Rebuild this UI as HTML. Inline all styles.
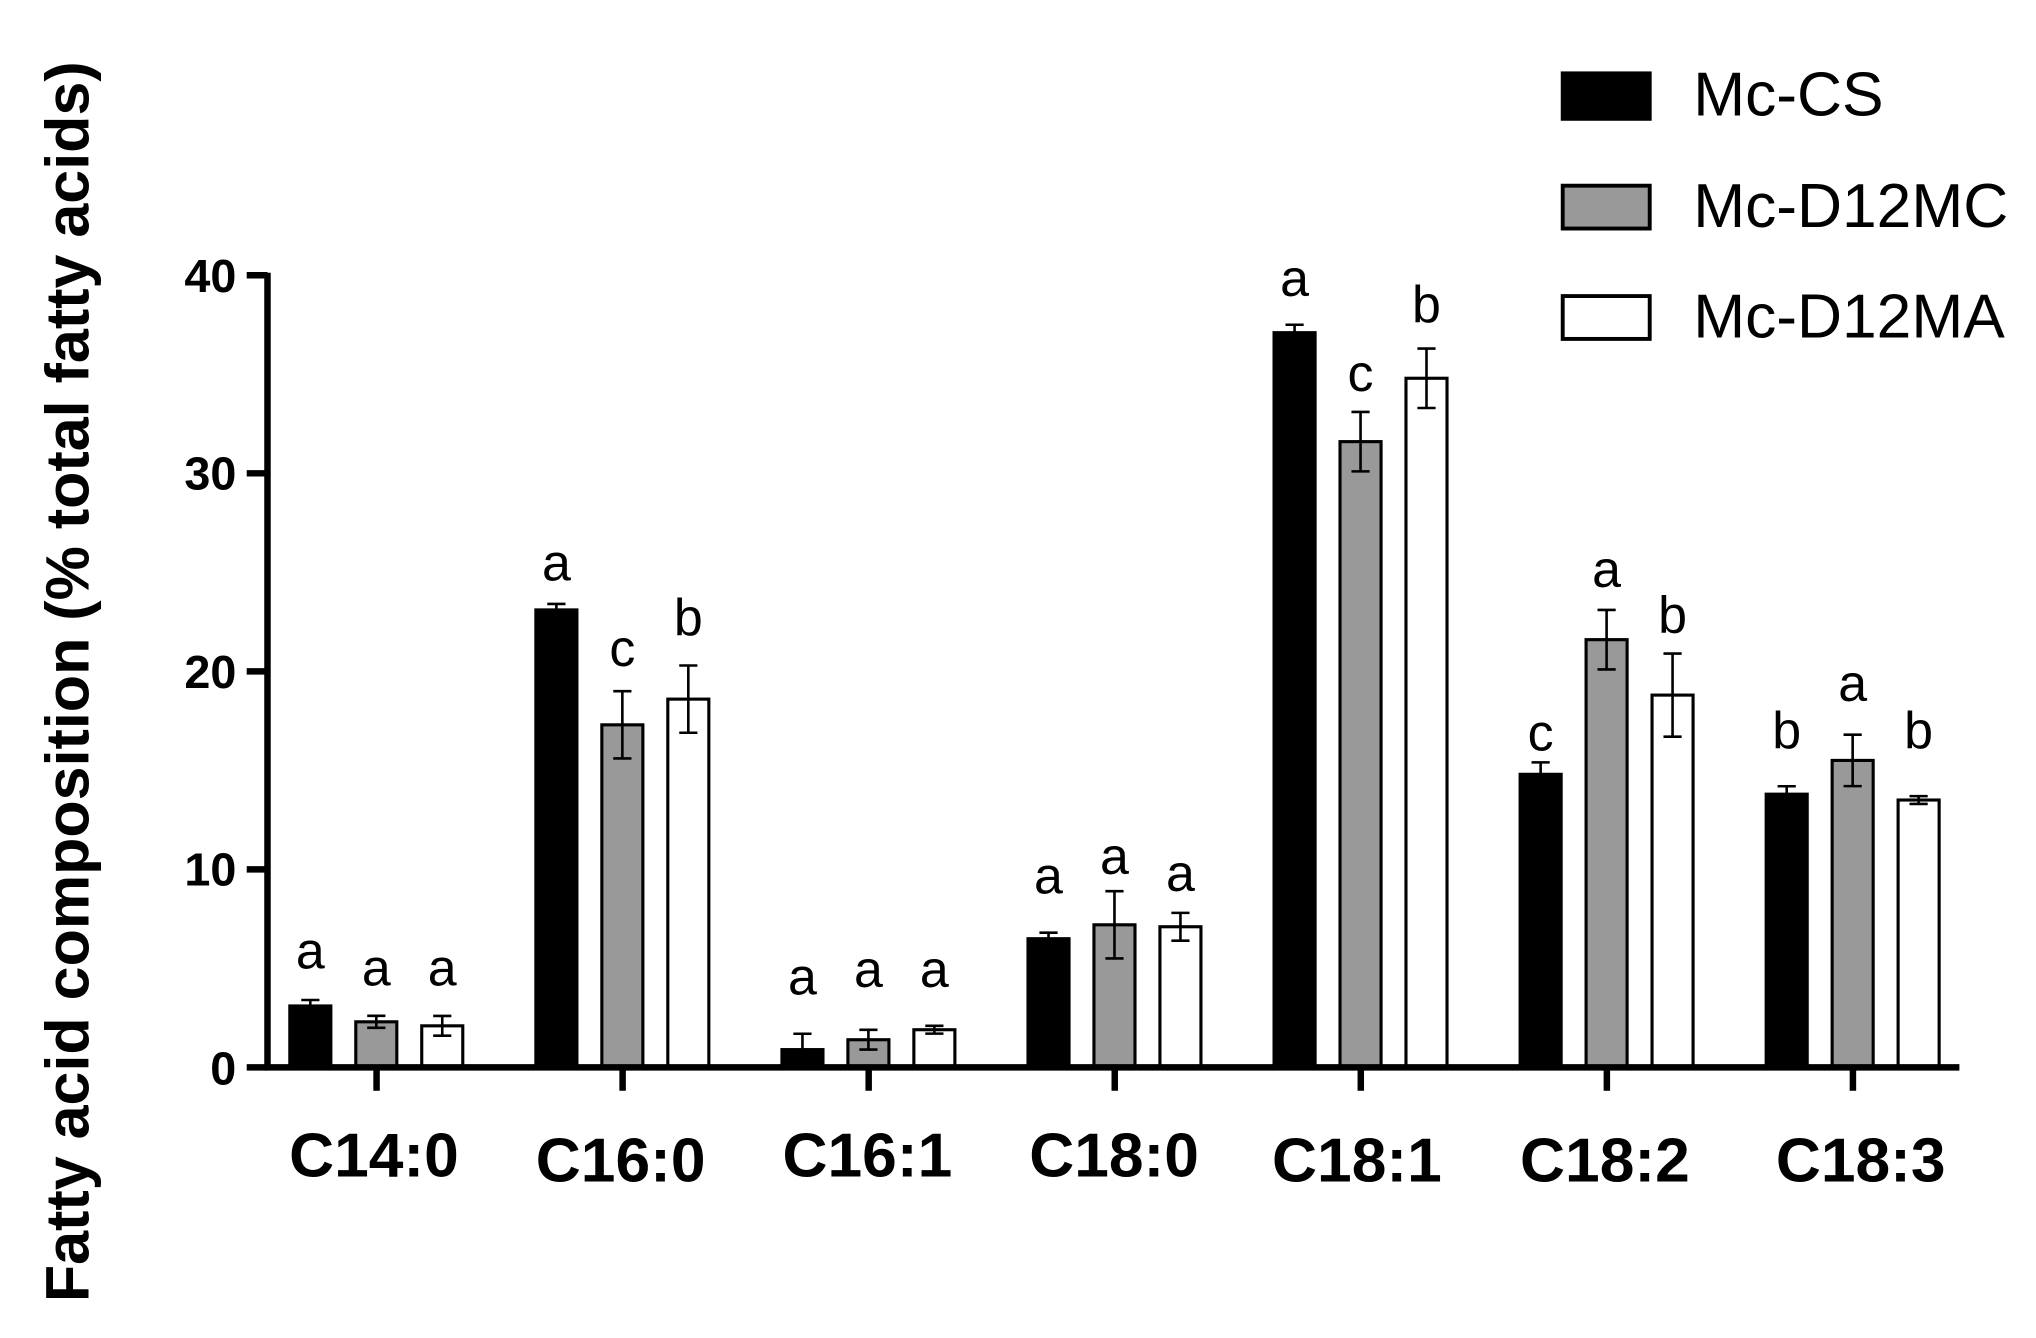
<!DOCTYPE html>
<html><head><meta charset="utf-8"><style>html,body{margin:0;padding:0;background:#fff}svg{display:block}</style></head>
<body>
<svg width="2036" height="1338" viewBox="0 0 1568 1030.4" preserveAspectRatio="none" xmlns="http://www.w3.org/2000/svg" font-family="Liberation Sans, Arial, sans-serif">
<g stroke="#000" stroke-width="2.4">
<rect x="223.2" y="774.7" width="31.6" height="47.3" fill="#000"/>
<rect x="274" y="786.9" width="31.6" height="35.1" fill="#999"/>
<rect x="324.8" y="790" width="31.6" height="32" fill="#fff"/>
<rect x="412.7" y="469.7" width="31.6" height="352.3" fill="#000"/>
<rect x="463.5" y="558.2" width="31.6" height="263.8" fill="#999"/>
<rect x="514.3" y="538.4" width="31.6" height="283.6" fill="#fff"/>
<rect x="602.2" y="808.3" width="31.6" height="13.7" fill="#000"/>
<rect x="653" y="800.7" width="31.6" height="21.3" fill="#999"/>
<rect x="703.8" y="793" width="31.6" height="29" fill="#fff"/>
<rect x="791.7" y="722.9" width="31.6" height="99.1" fill="#000"/>
<rect x="842.5" y="712.2" width="31.6" height="109.8" fill="#999"/>
<rect x="893.3" y="713.7" width="31.6" height="108.3" fill="#fff"/>
<rect x="981.2" y="256.2" width="31.6" height="565.8" fill="#000"/>
<rect x="1032" y="340.1" width="31.6" height="481.9" fill="#999"/>
<rect x="1082.8" y="291.3" width="31.6" height="530.7" fill="#fff"/>
<rect x="1170.7" y="596.3" width="31.6" height="225.7" fill="#000"/>
<rect x="1221.5" y="492.6" width="31.6" height="329.4" fill="#999"/>
<rect x="1272.3" y="535.3" width="31.6" height="286.7" fill="#fff"/>
<rect x="1360.2" y="611.6" width="31.6" height="210.4" fill="#000"/>
<rect x="1411" y="585.6" width="31.6" height="236.4" fill="#999"/>
<rect x="1461.8" y="616.1" width="31.6" height="205.9" fill="#fff"/>
</g>
<path fill="none" stroke="#000" stroke-width="2" d="
M232 770.1h14M239 770.1V779.3M232 779.3h14
M282.8 782.3h14M289.8 782.3V791.5M282.8 791.5h14
M333.6 782.4h14M340.6 782.4V797.6M333.6 797.6h14
M421.5 465.1h14M428.5 465.1V474.3M421.5 474.3h14
M472.3 532.3h14M479.3 532.3V584.1M472.3 584.1h14
M523.1 512.5h14M530.1 512.5V564.3M523.1 564.3h14
M611 796.1h14M618 796.1V820.5M611 820.5h14
M661.8 793.1h14M668.8 793.1V808.3M661.8 808.3h14
M712.6 790h14M719.6 790V796M712.6 796h14
M800.5 718.3h14M807.5 718.3V727.5M800.5 727.5h14
M851.3 686.3h14M858.3 686.3V738.1M851.3 738.1h14
M902.1 703h14M909.1 703V724.4M902.1 724.4h14
M990 250.1h14M997 250.1V262.3M990 262.3h14
M1040.8 317.2h14M1047.8 317.2V363M1040.8 363h14
M1091.6 268.4h14M1098.6 268.4V314.2M1091.6 314.2h14
M1179.5 587.1h14M1186.5 587.1V605.5M1179.5 605.5h14
M1230.3 469.7h14M1237.3 469.7V515.5M1230.3 515.5h14
M1281.1 503.3h14M1288.1 503.3V567.3M1281.1 567.3h14
M1369 605.5h14M1376 605.5V617.7M1369 617.7h14
M1419.8 565.8h14M1426.8 565.8V605.4M1419.8 605.4h14
M1470.6 613.1h14M1477.6 613.1V619.1M1470.6 619.1h14"/>
<g font-size="40" text-anchor="middle">
<text x="239" y="746">a</text><text x="289.8" y="759">a</text><text x="340.6" y="759">a</text>
<text x="428.5" y="447">a</text><text x="479.3" y="513">c</text><text x="530.1" y="489">b</text>
<text x="618" y="766">a</text><text x="668.8" y="760">a</text><text x="719.6" y="760">a</text>
<text x="807.5" y="688">a</text><text x="858.3" y="673">a</text><text x="909.1" y="686">a</text>
<text x="997" y="228">a</text><text x="1047.8" y="301">c</text><text x="1098.6" y="248">b</text>
<text x="1186.5" y="578">c</text><text x="1237.3" y="452">a</text><text x="1288.1" y="487">b</text>
<text x="1376" y="576">b</text><text x="1426.8" y="540">a</text><text x="1477.6" y="576">b</text>
</g>
<line x1="206" y1="210" x2="206" y2="824" stroke="#000" stroke-width="5"/>
<line x1="204" y1="822" x2="1509" y2="822" stroke="#000" stroke-width="5"/>
<g stroke="#000" stroke-width="5">
<line x1="190" y1="822" x2="206" y2="822"/><line x1="190" y1="669.5" x2="206" y2="669.5"/><line x1="190" y1="517" x2="206" y2="517"/><line x1="190" y1="364.5" x2="206" y2="364.5"/><line x1="190" y1="212" x2="206" y2="212"/>
<line x1="290" y1="822" x2="290" y2="840"/><line x1="479.5" y1="822" x2="479.5" y2="840"/><line x1="669" y1="822" x2="669" y2="840"/><line x1="858.5" y1="822" x2="858.5" y2="840"/><line x1="1048" y1="822" x2="1048" y2="840"/><line x1="1237.5" y1="822" x2="1237.5" y2="840"/><line x1="1427" y1="822" x2="1427" y2="840"/>
</g>
<g font-size="36" font-weight="bold" text-anchor="end">
<text x="182" y="835">0</text><text x="182" y="682">10</text><text x="182" y="530">20</text><text x="182" y="377">30</text><text x="182" y="225">40</text>
</g>
<g font-size="48" font-weight="bold" text-anchor="middle">
<text x="288" y="906">C14:0</text><text x="478" y="910">C16:0</text><text x="668" y="906">C16:1</text><text x="858" y="906">C18:0</text><text x="1045" y="910">C18:1</text><text x="1236" y="910">C18:2</text><text x="1433" y="910">C18:3</text>
</g>
<text transform="translate(68,525) rotate(-90)" font-size="47" font-weight="bold" text-anchor="middle">Fatty acid composition (% total fatty acids)</text>
<rect x="1202" y="55" width="70" height="38" fill="#000"/>
<rect x="1203.5" y="143" width="67" height="33" fill="#999" stroke="#000" stroke-width="3"/>
<rect x="1203.5" y="228" width="67" height="33" fill="#fff" stroke="#000" stroke-width="3"/>
<g font-size="48"><text x="1304" y="89">Mc-CS</text><text x="1304" y="175">Mc-D12MC</text><text x="1304" y="260">Mc-D12MA</text></g>
</svg>
</body></html>
